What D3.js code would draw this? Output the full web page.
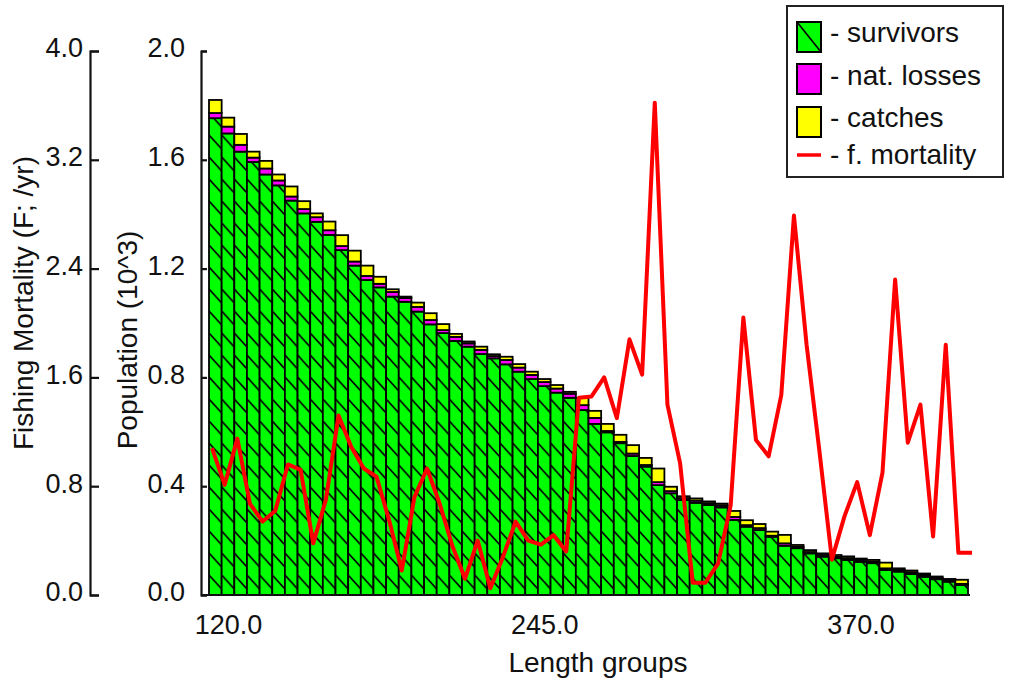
<!DOCTYPE html>
<html>
<head>
<meta charset="utf-8">
<script src="https://cdnjs.cloudflare.com/ajax/libs/d3/7.8.5/d3.min.js"></script>
<style>
  body { margin: 0; background: #fff; }
  text { font-family: "Liberation Sans", Arial, sans-serif; fill: #111; }
</style>
</head>
<body>
<div id="chart-area"></div>
<script>
// length groups (class mid points)
var lengths = [115,120,125,130,135,140,145,150,155,160,165,170,175,180,185,190,195,200,205,210,
               215,220,225,230,235,240,245,250,255,260,265,270,275,280,285,290,295,300,305,310,
               315,320,325,330,335,340,345,350,355,360,365,370,375,380,385,390,395,400,405,410];

// population (10^3) per group
var survivors = [1.753,1.697,1.630,1.592,1.546,1.506,1.450,1.403,1.372,1.324,1.268,1.211,1.158,1.131,1.097,1.078,1.042,0.995,0.963,0.934,
                 0.913,0.886,0.870,0.848,0.821,0.794,0.768,0.744,0.725,0.680,0.629,0.598,0.558,0.511,0.472,0.404,0.374,0.349,0.339,0.331,
                 0.322,0.276,0.251,0.239,0.214,0.181,0.172,0.153,0.141,0.135,0.129,0.122,0.117,0.092,0.086,0.077,0.067,0.058,0.049,0.037];
var natLosses = [0.019,0.025,0.025,0.016,0.022,0.018,0.015,0.016,0.017,0.017,0.015,0.015,0.015,0.013,0.017,0.014,0.017,0.016,0.011,0.015,
                 0.012,0.015,0.008,0.016,0.015,0.015,0.015,0.015,0.015,0.018,0.022,0.005,0.005,0.009,0.006,0.011,0.008,0.007,0.008,0.006,
                 0.007,0.011,0.006,0.007,0.004,0.009,0.005,0.005,0.006,0.005,0.006,0.006,0.005,0.006,0.006,0.006,0.006,0.005,0.004,0.004];
var catches = [0.048,0.033,0.040,0.022,0.028,0.022,0.037,0.029,0.014,0.032,0.040,0.040,0.038,0.026,0.010,0.005,0.016,0.025,0.022,0.011,
               0.007,0.012,0.007,0.012,0.013,0.012,0.011,0.013,0.007,0.026,0.026,0.026,0.026,0.031,0.026,0.050,0.016,0.007,0.008,0.007,
               0.007,0.022,0.018,0.015,0.015,0.031,0.007,0.007,0.006,0.007,0.007,0.006,0.007,0.021,0.006,0.007,0.006,0.005,0.006,0.015];

// fishing mortality (F; /yr)
var fMort = [1.08,0.81,1.15,0.67,0.54,0.62,0.96,0.92,0.38,0.70,1.32,1.09,0.93,0.87,0.55,0.18,0.72,0.93,0.67,0.36,
             0.12,0.40,0.05,0.28,0.54,0.40,0.37,0.44,0.32,1.45,1.46,1.60,1.30,1.88,1.62,3.62,1.40,0.97,0.09,0.09,
             0.23,0.66,2.04,1.14,1.02,1.47,2.79,1.84,1.07,0.26,0.58,0.83,0.44,0.90,2.32,1.12,1.40,0.43,1.84,0.31];

// tick labels
var popTicks = [0, 0.4, 0.8, 1.2, 1.6, 2.0];
var fTicks = [0, 0.8, 1.6, 2.4, 3.2, 4.0];
var lenTicks = [120, 245, 370];

var legendItems = ["- survivors", "- nat. losses", "- catches", "- f. mortality"];

// canvas size
const svgWidth = 1009,
      svgHeight = 684;

var svg = d3.select("#chart-area").append("svg")
    .attr("width", svgWidth)
    .attr("height", svgHeight);

// Scales
var xScale = d3.scaleLinear().domain([112.5, 412.5]).range([209, 968]);
var yPop = d3.scaleLinear().domain([0, 2]).range([595, 51]);
var yF = d3.scaleLinear().domain([0, 4]).range([595, 51]);

var bw = xScale(117.5) - xScale(112.5);

// hatch pattern for survivors
var defs = svg.append("defs");
var pat = defs.append("pattern")
    .attr("id", "hatch")
    .attr("patternUnits", "userSpaceOnUse")
    .attr("x", xScale.range()[0])
    .attr("y", 0)
    .attr("width", bw)
    .attr("height", 22);
pat.append("rect")
    .attr("width", bw)
    .attr("height", 22)
    .attr("fill", "#00ff00");
pat.append("line")
    .attr("x1", 0).attr("y1", 3)
    .attr("x2", bw).attr("y2", 17)
    .attr("stroke", "#000")
    .attr("stroke-width", 1.7);

// Stacked bars
var rows = lengths.map(function(L, i){
    return { len: L, survivors: survivors[i], nat: natLosses[i], catches: catches[i] };
});
var stack = d3.stack().keys(["survivors", "nat", "catches"]);
var series = stack(rows);
var fills = { survivors: "url(#hatch)", nat: "#ff00ff", catches: "#ffff00" };

svg.append("g").attr("class", "bars")
  .selectAll("g")
  .data(series)
  .enter().append("g")
    .attr("fill", function(s){ return fills[s.key]; })
  .selectAll("rect")
  .data(function(s){ return s; })
  .enter().append("rect")
    .attr("x", function(d){ return xScale(d.data.len - 2.5); })
    .attr("width", bw)
    .attr("y", function(d){ return yPop(d[1]); })
    .attr("height", function(d){ return yPop(d[0]) - yPop(d[1]); })
    .attr("stroke", "#000")
    .attr("stroke-width", 1.8);

// F axis (left)
var fAxis = svg.append("g")
    .attr("transform", "translate(90,0)")
    .call(d3.axisLeft(yF).tickValues(fTicks).tickSize(-9).tickPadding(7).tickFormat(d3.format(".1f")));

// Population axis
var pAxis = svg.append("g")
    .attr("transform", "translate(201,0)")
    .call(d3.axisLeft(yPop).tickValues(popTicks).tickSize(-6).tickPadding(16).tickFormat(d3.format(".1f")));

[fAxis, pAxis].forEach(function(ax){
    ax.select(".domain").attr("stroke", "#111").attr("stroke-width", 2.2);
    ax.selectAll(".tick line").attr("stroke", "#111").attr("stroke-width", 2.2);
    ax.selectAll(".tick text")
        .attr("font-size", "27px")
        .attr("font-family", "Liberation Sans, Arial, sans-serif")
        .attr("dy", "0.22em");
});

// X axis
var xAxis = svg.append("g")
    .attr("transform", "translate(0,595)")
    .call(d3.axisBottom(xScale).tickValues(lenTicks).tickSize(0).tickPadding(20).tickFormat(d3.format(".1f")));
xAxis.select(".domain").remove();
xAxis.selectAll(".tick text")
    .attr("font-size", "27px")
    .attr("font-family", "Liberation Sans, Arial, sans-serif");
xAxis.append("line")
    .attr("x1", 201).attr("x2", 970)
    .attr("y1", 0).attr("y2", 0)
    .attr("stroke", "#111")
    .attr("stroke-width", 2.2);

// F line
var fPoints = lengths.map(function(L, i){ return [xScale(L - 1.3), yF(fMort[i])]; });
fPoints.push([xScale(lengths[lengths.length-1] + 4.1), yF(fMort[fMort.length-1])]);
svg.append("path")
    .attr("d", d3.line()(fPoints))
    .attr("fill", "none")
    .attr("stroke", "#ff0000")
    .attr("stroke-width", 4)
    .attr("stroke-linejoin", "round");

// Axes labels
svg.append("text")
    .attr("x", 598)
    .attr("y", 672)
    .attr("font-size", "28px")
    .attr("text-anchor", "middle")
    .text("Length groups");

svg.append("text")
    .attr("transform", "translate(33,303) rotate(-90)")
    .attr("font-size", "28px")
    .attr("text-anchor", "middle")
    .text("Fishing Mortality (F; /yr)");

svg.append("text")
    .attr("transform", "translate(137,340) rotate(-90)")
    .attr("font-size", "28px")
    .attr("text-anchor", "middle")
    .text("Population (10^3)");

// Legend
var legend = svg.append("g").attr("class", "legend");
legend.append("rect")
    .attr("x", 787).attr("y", 6)
    .attr("width", 216).attr("height", 171)
    .attr("fill", "#fff")
    .attr("stroke", "#222")
    .attr("stroke-width", 2);

var swFills = ["#00ff00", "#ff00ff", "#ffff00"];
var swY = [22, 64, 107];
swFills.forEach(function(c, i){
    legend.append("rect")
        .attr("x", 797).attr("y", swY[i])
        .attr("width", 24).attr("height", 30)
        .attr("fill", c)
        .attr("stroke", "#000")
        .attr("stroke-width", 2);
});
legend.append("line")
    .attr("x1", 797).attr("y1", 22)
    .attr("x2", 821).attr("y2", 52)
    .attr("stroke", "#000")
    .attr("stroke-width", 1.6);
legend.append("line")
    .attr("x1", 797).attr("x2", 821)
    .attr("y1", 155).attr("y2", 155)
    .attr("stroke", "#ff0000")
    .attr("stroke-width", 3.5);

var textY = [42, 85, 127, 164];
legendItems.forEach(function(t, i){
    legend.append("text")
        .attr("x", 830)
        .attr("y", textY[i])
        .attr("font-size", "28px")
        .text(t);
});
</script>
</body>
</html>
